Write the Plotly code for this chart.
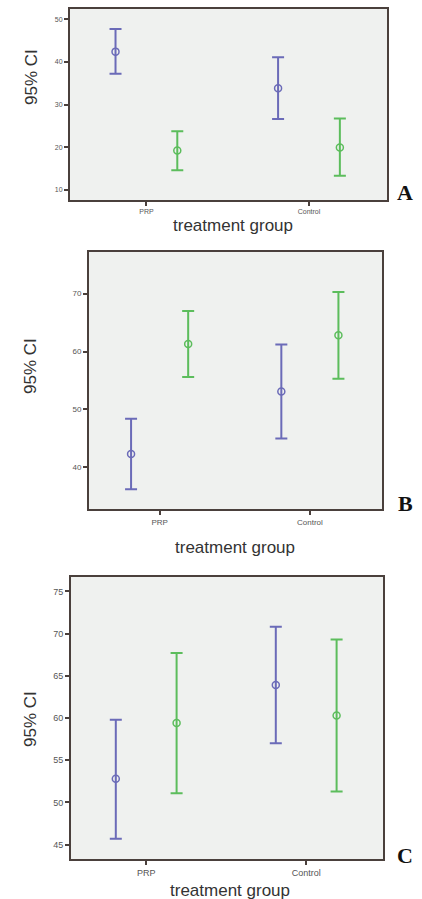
import plotly.graph_objects as go

categories = ["PRP", "Control"]

# Panel A
a_blue_mean = [42.4, 33.8]
a_blue_upper = [47.7, 41.1]
a_blue_lower = [37.2, 26.6]
a_green_mean = [19.2, 19.9]
a_green_upper = [23.7, 26.7]
a_green_lower = [14.6, 13.3]
a_ticks = [10, 20, 30, 40, 50]

# Panel B
b_blue_mean = [42.3, 53.1]
b_blue_upper = [48.4, 61.2]
b_blue_lower = [36.2, 45.0]
b_green_mean = [61.3, 62.8]
b_green_upper = [67.0, 70.3]
b_green_lower = [55.6, 55.3]
b_ticks = [40, 50, 60, 70]

# Panel C
c_blue_mean = [52.8, 63.9]
c_blue_upper = [59.8, 70.8]
c_blue_lower = [45.7, 57.0]
c_green_mean = [59.4, 60.3]
c_green_upper = [67.7, 69.3]
c_green_lower = [51.1, 51.3]
c_ticks = [45, 50, 55, 60, 65, 70, 75]

BLUE = "#6b6bb8"
GREEN = "#5cbd5c"
FRAME = "#4a403c"
BG = "#eff1ef"
W, H = 422, 899

fig = go.Figure()

panels = [
    dict(k="", mean=(a_blue_mean, a_green_mean), up=(a_blue_upper, a_green_upper),
         lo=(a_blue_lower, a_green_lower), ticks=a_ticks, yr=[7.6, 52.4],
         px=(70, 387), py=(9, 200), tf=7, letter="A", ly=193, ty=226, tx=233, yt=(32, 77)),
    dict(k="2", mean=(b_blue_mean, b_green_mean), up=(b_blue_upper, b_green_upper),
         lo=(b_blue_lower, b_green_lower), ticks=b_ticks, yr=[32.8, 77.2],
         px=(89, 382), py=(252, 509), tf=8, letter="B", ly=503, ty=547, tx=235, yt=(30, 366)),
    dict(k="3", mean=(c_blue_mean, c_green_mean), up=(c_blue_upper, c_green_upper),
         lo=(c_blue_lower, c_green_lower), ticks=c_ticks, yr=[43.3, 76.7],
         px=(71, 383), py=(577, 859), tf=9, letter="C", ly=855, ty=890, tx=230, yt=(30, 719)),
]

offsets = (-0.19, 0.19)
colors = (BLUE, GREEN)
names = ("Series 1", "Series 2")

annotations = []
for p in panels:
    xa = "x" + p["k"]
    ya = "y" + p["k"]
    for s in range(2):
        mean = p["mean"][s]
        up = p["up"][s]
        lo = p["lo"][s]
        xs = [i + offsets[s] for i in range(len(categories))]
        fig.add_trace(go.Scatter(
            x=xs, y=mean, mode="markers", name=names[s], showlegend=False,
            xaxis=xa, yaxis=ya,
            marker=dict(symbol="circle-open", size=7, color=colors[s], line=dict(width=1.5)),
            error_y=dict(type="data", symmetric=False,
                         array=[u - m for u, m in zip(up, mean)],
                         arrayminus=[m - l for m, l in zip(mean, lo)],
                         color=colors[s], thickness=2, width=6),
        ))
    x0, x1 = p["px"]
    y0, y1 = p["py"]
    axis_common = dict(showline=True, mirror=True, linecolor=FRAME, linewidth=2,
                       showgrid=False, zeroline=False, ticks="outside", ticklen=4,
                       tickcolor=FRAME, tickwidth=1.5,
                       tickfont=dict(family="Liberation Sans, Arial", size=p["tf"], color="#555"))
    fig.update_layout(**{
        "xaxis" + p["k"]: dict(domain=[x0 / W, x1 / W], range=[-0.47, 1.48],
                               tickvals=list(range(len(categories))), ticktext=categories,
                               anchor=ya, fixedrange=True, **axis_common),
        "yaxis" + p["k"]: dict(domain=[1 - y1 / H, 1 - y0 / H], range=p["yr"],
                               tickvals=p["ticks"], anchor=xa, fixedrange=True, **axis_common),
    })
    fig.add_shape(type="rect", xref=xa + " domain", yref=ya + " domain", x0=0, x1=1, y0=0, y1=1,
                  fillcolor=BG, line=dict(width=0), layer="below")
    annotations.append(dict(text="<b>" + p["letter"] + "</b>", x=405 / W, y=1 - p["ly"] / H,
                            xref="paper", yref="paper",
                            showarrow=False, xanchor="center", yanchor="middle",
                            font=dict(family="Liberation Serif, Times New Roman", size=22, color="#111")))
    annotations.append(dict(text="treatment group", x=p["tx"] / W, y=1 - p["ty"] / H, xref="paper", yref="paper",
                            showarrow=False, xanchor="center", yanchor="middle",
                            font=dict(family="Liberation Sans, Arial", size=17, color="#333")))
    annotations.append(dict(text="95% CI", x=p["yt"][0] / W, y=1 - p["yt"][1] / H, xref="paper", yref="paper",
                            showarrow=False, xanchor="center", yanchor="middle", textangle=-90,
                            font=dict(family="Liberation Sans, Arial", size=17, color="#333")))

fig.update_layout(width=W, height=H, margin=dict(l=0, r=0, t=0, b=0),
                  paper_bgcolor="white", plot_bgcolor="rgba(0,0,0,0)",
                  annotations=annotations)

fig.write_html("out.html", config={"displayModeBar": False},
               post_script="document.body.style.margin='0';document.body.style.overflow='hidden';")
